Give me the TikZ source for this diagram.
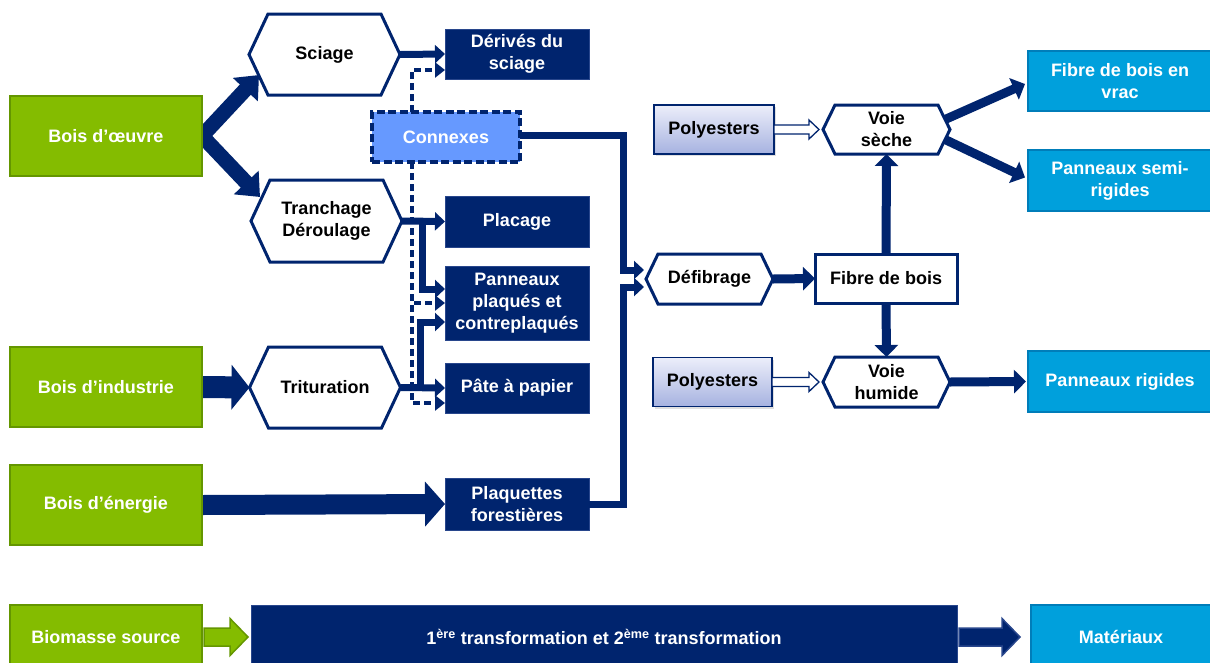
\documentclass[tikz,border=0pt]{standalone}
\usepackage{fontspec}
\setmainfont{Liberation Sans}
\usetikzlibrary{arrows.meta,calc,shadows}
\definecolor{navy}{RGB}{0,36,110}
\definecolor{navyl}{RGB}{40,70,140}
\definecolor{grn}{RGB}{132,188,0}
\definecolor{grnd}{RGB}{100,150,0}
\definecolor{cyanb}{RGB}{0,160,220}
\definecolor{cyand}{RGB}{0,125,185}
\definecolor{conx}{RGB}{102,153,255}
\definecolor{polytop}{RGB}{236,238,250}
\definecolor{polybot}{RGB}{166,178,224}
\pgfdeclarelayer{bg}
\pgfsetlayers{bg,main}
\newcommand\hexdraw[2]{\draw[hexline] (#1.west) -- ([xshift=#2]#1.north west) -- ([xshift=-#2]#1.north east) -- (#1.east) -- ([xshift=-#2]#1.south east) -- ([xshift=#2]#1.south west) -- cycle;}
\newcommand\barrow[6]{\draw[#6] ([yshift=#3]#1) -- ([shift={(-#4,#3)}]#2) -- ([shift={(-#4,#5)}]#2) -- (#2) -- ([shift={(-#4,-#5)}]#2) -- ([shift={(-#4,-#3)}]#2) -- ([yshift=-#3]#1) -- cycle;}
\tikzset{
 base/.style={inner sep=0pt, outer sep=0pt, align=center, font=\fontsize{18}{22}\selectfont\bfseries},
 source/.style={base, fill=grn, draw=grnd, line width=1.8pt, text=white},
 prod/.style={base, fill=navy, draw=navyl, line width=1pt, text=white},
 final/.style={base, fill=cyanb, draw=cyand, line width=1.8pt, text=white},
 hexn/.style={base, text=black},
 hexline/.style={draw=navy, line width=3pt, line join=miter},
 polybox/.style={base, top color=polytop, bottom color=polybot, draw=navy, line width=1.5pt, text=black, drop shadow={opacity=0.25, shadow xshift=2pt, shadow yshift=-2pt}},
 fibbox/.style={base, fill=white, draw=navy, line width=3pt, text=black},
 conbox/.style={base, fill=conx, draw=navy, line width=3.2pt, dash pattern=on 8pt off 3.5pt, text=white},
 flow/.style={draw=navy, line width=7pt, -{Triangle[length=10pt,width=18pt]}},
 flowb/.style={draw=navy, line width=9pt, -{Triangle[length=12pt,width=23pt]}},
 dflow/.style={draw=navy, line width=3.2pt, dash pattern=on 7pt off 4pt, -{Triangle[length=10pt,width=15pt]}},
 blk/.style={draw=navy, line width=15pt, -{Triangle[length=20pt,width=33pt]}},
 blkh/.style={draw=navy, line width=22pt, -{Triangle[length=18pt,width=44pt]}},
 blke/.style={draw=navy, line width=20pt, -{Triangle[length=20pt,width=44pt]}},
 openarr/.style={draw=navy, fill=white, line width=1.3pt, line join=miter},
 legg/.style={draw=grnd, fill=grn, line width=1.5pt, line join=miter},
 legn/.style={draw=navyl, fill=navy, line width=1.5pt, line join=miter},
}
\begin{document}
\begin{tikzpicture}[x=1pt,y=-1pt]
\useasboundingbox (0,0) rectangle (1210,662);
\clip (0,0) rectangle (1210,662);
% sources
\node[source, minimum width=192pt, minimum height=80pt] (boeuvre) at (106,136) {Bois d’œuvre};
\node[source, minimum width=192pt, minimum height=80pt] (bindus) at (106,387) {Bois d’industrie};
\node[source, minimum width=192pt, minimum height=80pt] (benergie) at (106,505) {Bois d’énergie};
% hexagons
\node[hexn, minimum width=151pt, minimum height=81pt] (sciage) at (324.5,54.5) {Sciage};
\node[hexn, minimum width=151pt, minimum height=82pt] (tranchage) at (326.5,221) {Tranchage\\Déroulage};
\node[hexn, minimum width=151pt, minimum height=81pt] (trituration) at (325,387.5) {Trituration};
\node[hexn, minimum width=127pt, minimum height=50pt] (defibrage) at (709.5,279) {Défibrage};
\node[hexn, minimum width=127pt, minimum height=49pt] (seche) at (886.5,129.5) {Voie\\sèche};
\node[hexn, minimum width=127pt, minimum height=50pt] (humide) at (886.5,382) {Voie\\humide};
\hexdraw{sciage}{19pt}
\hexdraw{tranchage}{19pt}
\hexdraw{trituration}{19pt}
\hexdraw{defibrage}{12pt}
\hexdraw{seche}{12pt}
\hexdraw{humide}{12pt}
% products
\node[prod, minimum width=144pt, minimum height=50pt] (derives) at (517,54) {Dérivés du\\sciage};
\node[conbox, minimum width=148pt, minimum height=50pt] (connexes) at (446,137) {Connexes};
\node[prod, minimum width=144pt, minimum height=51pt] (placage) at (517,221.5) {Placage};
\node[prod, minimum width=144pt, minimum height=74pt] (panneaux) at (517,303) {Panneaux\\plaqués et\\contreplaqués};
\node[prod, minimum width=144pt, minimum height=50pt] (pate) at (517,388) {Pâte à papier};
\node[prod, minimum width=144pt, minimum height=52pt] (plaquettes) at (517,504) {Plaquettes\\forestières};
% right part
\node[fibbox, minimum width=142pt, minimum height=49pt] (fibre) at (886,278.5) {Fibre de bois};
\node[polybox, minimum width=120pt, minimum height=49pt] (poly1) at (714,129.5) {Polyesters};
\node[polybox, minimum width=119pt, minimum height=49pt] (poly2) at (712.5,382) {Polyesters};
\node[final, minimum width=184pt, minimum height=60pt] (vrac) at (1120,81) {Fibre de bois en\\vrac};
\node[final, minimum width=184pt, minimum height=61pt] (semi) at (1120,180.5) {Panneaux semi-\\rigides};
\node[final, minimum width=184pt, minimum height=61pt] (rigides) at (1120,381.5) {Panneaux rigides};
% legend
\node[source, minimum width=192pt, minimum height=64pt] (biomasse) at (106,637) {Biomasse source};
\node[prod, minimum width=706pt, minimum height=64pt] (trans) at (604,637) {1\textsuperscript{ère} transformation et 2\textsuperscript{ème} transformation};
\node[final, minimum width=180pt, minimum height=64pt] (materiaux) at (1121,637) {Matériaux};
% helper end points
\coordinate (sechein) at ([xshift=-4pt]seche.west);
\coordinate (humidein) at ([xshift=-4pt]humide.west);
\coordinate (biomout) at ([xshift=2pt]biomasse.east);
\coordinate (transin) at ([xshift=-3pt]trans.west);
\coordinate (transout) at ([xshift=2pt]trans.east);
\coordinate (matin) at ([xshift=-11pt]materiaux.west);
% connectors
\begin{pgfonlayer}{bg}
\draw[blk] (boeuvre.east) -- ([shift={(10pt,20pt)}]sciage.south west);
\draw[blk] (boeuvre.east) -- ([shift={(9pt,-17pt)}]tranchage.north west);
\draw[blkh] (bindus.east) -- (trituration.west);
\draw[blke] (benergie.east) -- (plaquettes.west);
\end{pgfonlayer}
\draw[flow] (sciage.east) -- (derives.west);
\draw[flow] (tranchage.east) -- (placage.west);
\draw[flow] ([xshift=20pt]tranchage.east) |- ([yshift=14pt]panneaux.west);
\draw[flow] ([xshift=20pt]trituration.east) |- ([yshift=-19pt]panneaux.west);
\draw[flow] (trituration.east) -- (pate.west);
\draw[dflow] ([xshift=-34pt]connexes.north) |- ([yshift=-16pt]derives.west);
\draw[dflow] ([xshift=-34pt]connexes.south) |- (panneaux.west);
\draw[dflow] ([xshift=-34pt]connexes.south) |- ([yshift=-15pt]pate.west);
\draw[flow, shorten >=2pt] ([yshift=1.5pt]connexes.east) -| ([xshift=-23pt,yshift=9pt]defibrage.west) -- ([yshift=9pt]defibrage.west);
\draw[flow, shorten >=2pt] (plaquettes.east) -| ([xshift=-23pt,yshift=-8pt]defibrage.west) -- ([yshift=-8pt]defibrage.west);
\draw[flowb] (defibrage.east) -- (fibre.west);
\draw[flowb] (fibre.north) -- (seche.south);
\draw[flowb] (fibre.south) -- (humide.north);
\draw[flowb] ([shift={(-5pt,10pt)}]seche.east) -- ([shift={(-3pt,-3pt)}]vrac.west);
\draw[flowb] ([shift={(-5pt,-10pt)}]seche.east) -- ([shift={(-3pt,3pt)}]semi.west);
\draw[flowb] (humide.east) -- ([xshift=-2pt]rigides.west);
\barrow{poly1.east}{sechein}{4.5pt}{10pt}{9.5pt}{openarr}
\barrow{poly2.east}{humidein}{4.5pt}{10pt}{9.5pt}{openarr}
\barrow{biomout}{transin}{9pt}{18pt}{18.5pt}{legg}
\barrow{transout}{matin}{9pt}{18pt}{18.5pt}{legn}
\end{tikzpicture}
\end{document}
